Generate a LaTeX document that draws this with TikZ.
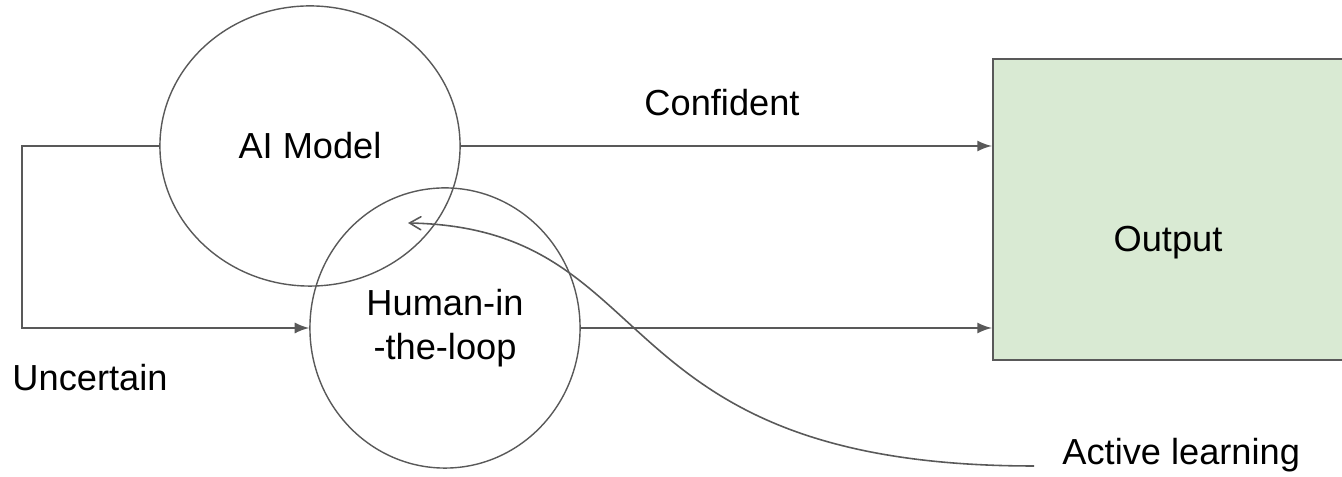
\documentclass[tikz,border=0pt]{standalone}
\usepackage{fontspec}
\setmainfont{Liberation Sans}
\usetikzlibrary{arrows,positioning,shapes.geometric}
\definecolor{linegray}{HTML}{595959}
\definecolor{outgreen}{HTML}{D9EAD3}
\tikzset{font=\fontsize{10.3}{12.4}\selectfont}
\tikzstyle{blob}=[ellipse,draw=linegray,line width=0.4pt,inner sep=0pt,align=center]
\tikzstyle{outbox}=[rectangle,draw=linegray,fill=outgreen,line width=0.6pt,inner sep=0pt]
\tikzstyle{wire}=[linegray,line width=0.45pt]

\begin{document}
\begin{tikzpicture}[x=0.01cm,y=-0.01cm]
\useasboundingbox (0,0) rectangle (1342,477);
\node[outbox,minimum width=3.53cm,minimum height=3.01cm] (O) at (1169.5,209.5) {};
\node (Out) at (1168,243) {Output};
\node[blob,minimum width=3cm,minimum height=2.8cm] (AI) at (310,146) {AI Model};
\node[blob,minimum width=2.7cm,minimum height=2.8cm] (H) at (445,328) {Human-in\\-the-loop};
\node (Conf) at (722,103) {Confident};
\node (Unc) at (90,378) {Uncertain};
\node[anchor=west] (Act) at (1050,455) {Active learning};
\coordinate (C) at (22,146);
\coordinate (L) at (1034,466);
\coordinate (T) at (408,223);
\path[->,>=latex,wire]
(AI.east) edge (AI.east -| O.west)
(H.east) edge (H.east -| O.west);
\draw[->,>=latex,wire] (AI.west) -- (C) |- (H.west);
% feedback from the labels back into the model
\draw[->,>=angle 60,wire] (L) .. controls (596,466) and (668,228) .. (T);
\end{tikzpicture}
\end{document}
